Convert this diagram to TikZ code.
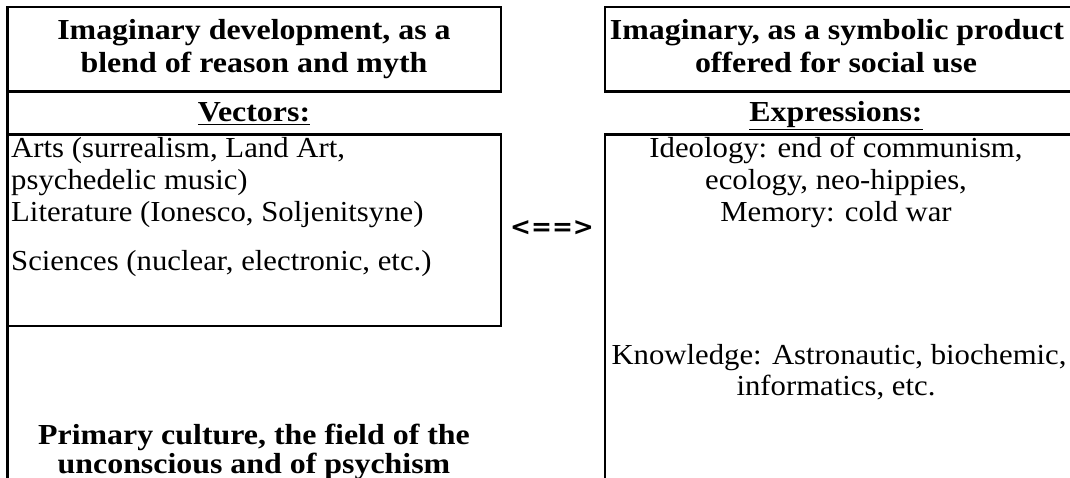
\documentclass[tikz,border=0pt]{standalone}
\usepackage{fontspec}
\setmainfont{Liberation Serif}[FakeStretch=1.06]
\newfontfamily\titlefont{Liberation Serif}[FakeStretch=1.10]
\newfontfamily\arrowfont{DejaVu Sans}
\begin{document}
\begin{tikzpicture}[x=1pt,y=-1pt,
  frame/.style={line width=2.2pt, line join=miter},
  txt/.style={inner sep=0pt, anchor=base, font=\fontsize{29}{32}\selectfont},
  ltxt/.style={txt, anchor=base west},
  btxt/.style={inner sep=0pt, anchor=base, font=\titlefont\fontsize{29}{32}\selectfont\bfseries},
  arr/.style={inner sep=0pt, font=\arrowfont\bfseries\fontsize{25}{28}\selectfont}]
\useasboundingbox (0,0) rectangle (1070,478);
% frames
\draw[frame] (7.5,480) -- (7.5,7) -- (501,7) -- (501,91.5) -- (7.5,91.5);
\draw[frame] (7.5,134.5) -- (501,134.5) -- (501,326) -- (7.5,326);
\draw[frame] (1072,7) -- (605,7) -- (605,91.5) -- (1072,91.5);
\draw[frame] (1072,134.5) -- (605,134.5) -- (605,480);
% left column
\node[btxt] (lt1) at (254,40) {Imaginary development, as a};
\node[btxt] (lt2) at (254,73) {blend of reason and myth};
\node[btxt] (vec) at (254,122) {\underline{Vectors:}};
\node[ltxt] (v1) at (11,158) {Arts (surrealism, Land Art,};
\node[ltxt] (v2) at (11,190) {psychedelic music)};
\node[ltxt] (v3) at (11,222) {Literature (Ionesco, Soljenitsyne)};
\node[ltxt] (v4) at (11,270) {Sciences (nuclear, electronic, etc.)};
\node[btxt] (p1) at (254,444) {Primary culture, the field of the};
\node[btxt] (p2) at (254,473) {unconscious and of psychism};
% arrow
\node[arr] (dbl) at (552,228) {<==>};
% right column
\node[btxt] (rt1) at (837,40) {Imaginary, as a symbolic product};
\node[btxt] (rt2) at (836,73) {offered for social use};
\node[btxt] (exp) at (836,122) {\underline{Expressions:}};
\node[txt] (e1) at (836,158) {Ideology: end of communism,};
\node[txt] (e2) at (836,190) {ecology, neo-hippies,};
\node[txt] (e3) at (836,222) {Memory: cold war};
\node[txt] (e4) at (839,364) {Knowledge: Astronautic, biochemic,};
\node[txt] (e5) at (836,395) {informatics, etc.};
\end{tikzpicture}
\end{document}
